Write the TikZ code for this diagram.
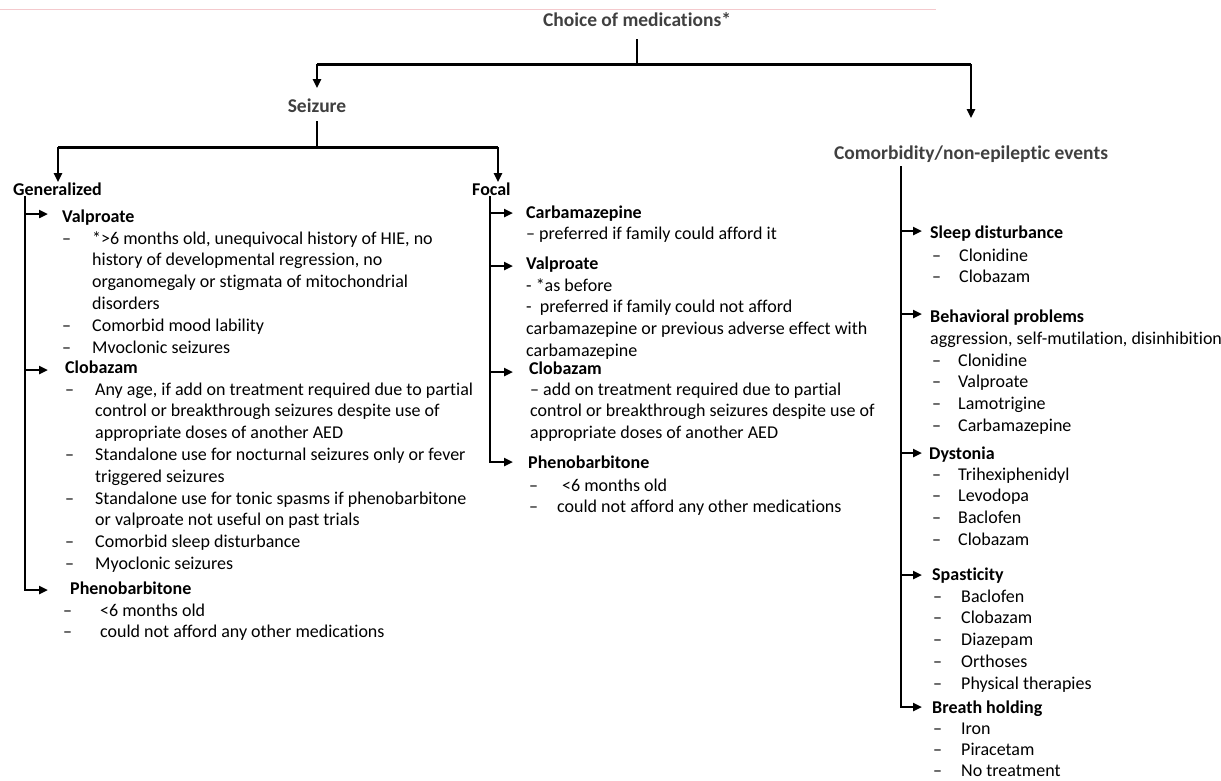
\documentclass[tikz,border=0pt]{standalone}
\usepackage{fontspec}
\setmainfont{Carlito}[RawFeature={-liga;-clig;-calt;-dlig}]
\usetikzlibrary{arrows.meta}
\definecolor{hdr}{HTML}{404040}
\definecolor{pinkline}{HTML}{F4C9CD}
% item: name, dash x, text x, baseline of first line, number of lines, text
\newcommand\medItem[6]{\node[body] (#1d) at (#2,#4) {–}; \node[body] (#1) at (#3,{#4+(#5-1)*21.8}) {#6};}
\begin{document}
\begin{tikzpicture}[x=1pt,y=-1pt,
  body/.style={anchor=base west, inner sep=0pt, align=left, font=\fontsize{18}{21.8}\selectfont},
  hd/.style={body, font=\fontsize{18}{21.8}\selectfont\bfseries},
  tp/.style={anchor=base, inner sep=0pt, text=hdr, font=\fontsize{19.5}{22}\selectfont\bfseries},
  ln/.style={line width=1.8pt},
  bar/.style={line width=3pt},
  arr/.style={line width=2.3pt, -{Triangle[length=9pt,width=8pt]}},
]
\useasboundingbox (0,0) rectangle (1221,780);
\draw[pinkline, line width=1pt] (0,9) -- (936,9);

% top level
\node[tp] (choice) at (637,26) {Choice of medications*};
\node[tp] (seizure) at (317,112) {Seizure};
\node[tp] (comorb) at (971,159) {Comorbidity/non-epileptic events};
\coordinate (cj) at (637,64);
\coordinate (sL) at (317,64);
\coordinate (cR) at (971,64);
\draw[ln] ([yshift=-13pt]choice.south) -- (cj);
\draw[bar] (sL) -- (cR);
\draw[arr] (sL) -- ([yshift=10pt]seizure.north);
\draw[arr] (cR) -- ([yshift=27pt]comorb.north);

% seizure split
\node[hd] (gen) at (13,195) {Generalized};
\node[hd] (foc) at (472,195) {Focal};
\coordinate (sj) at (317,147);
\coordinate (gj) at (58,147);
\coordinate (fj) at (498,147);
\draw[ln] ([yshift=-9pt]seizure.south) -- (sj);
\draw[bar] (gj) -- (fj);
\draw[arr] (gj) -- (gj |- gen.north);
\draw[arr] (fj) -- (fj |- foc.north);

% Generalized
\coordinate (gt0) at (25,196);
\coordinate (gt1) at (25,590);
\node[hd] (gval) at (62,222) {Valproate};
\coordinate (gvalA) at (48,214);
\medItem{gv1}{62}{92}{244}{4}{*>6 months old, unequivocal history of HIE, no\\history of developmental regression, no\\organomegaly or stigmata of mitochondrial\\disorders}
\medItem{gv2}{62}{92}{331}{1}{Comorbid mood lability}
\medItem{gv3}{62}{92}{353}{1}{Mvoclonic seizures}
\node[hd] (gclo) at (65,373) {Clobazam};
\coordinate (gcloA) at (48,370);
\medItem{gc1}{65}{95}{395}{3}{Any age, if add on treatment required due to partial\\control or breakthrough seizures despite use of\\appropriate doses of another AED}
\medItem{gc2}{65}{95}{460.4}{2}{Standalone use for nocturnal seizures only or fever\\triggered seizures}
\medItem{gc3}{65}{95}{504}{2}{Standalone use for tonic spasms if phenobarbitone\\or valproate not useful on past trials}
\medItem{gc4}{65}{95}{547.6}{1}{Comorbid sleep disturbance}
\medItem{gc5}{65}{95}{569.4}{1}{Myoclonic seizures}
\node[hd] (gphe) at (70,594) {Phenobarbitone};
\coordinate (gpheA) at (48,590);
\medItem{gp1}{63}{100}{616}{1}{<6 months old}
\medItem{gp2}{63}{100}{637}{1}{could not afford any other medications}
\draw[arr] (gt0) -- (gt1) -- (gpheA);
\draw[arr] (gt0 |- gvalA) -- (gvalA);
\draw[arr] (gt0 |- gcloA) -- (gcloA);

% Focal
\coordinate (ft0) at (490,196);
\coordinate (ft1) at (490,462);
\node[hd] (fcar) at (526,218) {Carbamazepine};
\coordinate (fcarA) at (513,213);
\node[body] (fc1) at (526,239) {– preferred if family could afford it};
\node[hd] (fval) at (526,269) {Valproate};
\coordinate (fvalA) at (513,266);
\node[body] (fv1) at (526,356.4) {- *as before\\-~ preferred if family could not afford\\carbamazepine or previous adverse effect with\\carbamazepine};
\node[hd] (fclo) at (529,374) {Clobazam};
\coordinate (fcloA) at (513,372);
\node[body] (fc2) at (530,438.6) {– add on treatment required due to partial\\control or breakthrough seizures despite use of\\appropriate doses of another AED};
\node[hd] (fphe) at (528,468) {Phenobarbitone};
\coordinate (fpheA) at (513,462);
\node[body] (fp1d) at (529,491) {–};
\node[body] (fp1) at (562,491) {<6 months old};
\node[body] (fp2d) at (529,512) {–};
\node[body] (fp2) at (557,512) {could not afford any other medications};
\draw[arr] (ft0) -- (ft1) -- (fpheA);
\draw[arr] (ft0 |- fcarA) -- (fcarA);
\draw[arr] (ft0 |- fvalA) -- (fvalA);
\draw[arr] (ft0 |- fcloA) -- (fcloA);

% Comorbidity
\coordinate (ct0) at (901,166);
\coordinate (ct1) at (901,707);
\node[hd] (csl) at (930,238) {Sleep disturbance};
\coordinate (cslA) at (922,231);
\medItem{cs1}{932}{959}{261}{1}{Clonidine}
\medItem{cs2}{932}{959}{282}{1}{Clobazam}
\node[hd] (cbe) at (930,322) {Behavioral problems};
\coordinate (cbeA) at (922,314);
\node[body] (cbe0) at (930,344) {aggression, self-mutilation, disinhibition};
\medItem{cb1}{932}{958}{366}{1}{Clonidine}
\medItem{cb2}{932}{958}{387.8}{1}{Valproate}
\medItem{cb3}{932}{958}{409.6}{1}{Lamotrigine}
\medItem{cb4}{932}{958}{431.4}{1}{Carbamazepine}
\node[hd] (cdy) at (929,459) {Dystonia};
\coordinate (cdyA) at (922,453);
\medItem{cd1}{932}{958}{480}{1}{Trihexiphenidyl}
\medItem{cd2}{932}{958}{501.8}{1}{Levodopa}
\medItem{cd3}{932}{958}{523.6}{1}{Baclofen}
\medItem{cd4}{932}{958}{545.4}{1}{Clobazam}
\node[hd] (csp) at (932,580) {Spasticity};
\coordinate (cspA) at (922,575);
\medItem{cp1}{933}{961}{602}{1}{Baclofen}
\medItem{cp2}{933}{961}{623.8}{1}{Clobazam}
\medItem{cp3}{933}{961}{645.6}{1}{Diazepam}
\medItem{cp4}{933}{961}{667.4}{1}{Orthoses}
\medItem{cp5}{933}{961}{689.2}{1}{Physical therapies}
\node[hd] (cbr) at (932,713) {Breath holding};
\coordinate (cbrA) at (922,707);
\medItem{cr1}{933}{961}{734}{1}{Iron}
\medItem{cr2}{933}{961}{755.5}{1}{Piracetam}
\medItem{cr3}{933}{961}{776}{1}{No treatment}
\draw[arr] (ct0) -- (ct1) -- (cbrA);
\draw[arr] (ct0 |- cslA) -- (cslA);
\draw[arr] (ct0 |- cbeA) -- (cbeA);
\draw[arr] (ct0 |- cdyA) -- (cdyA);
\draw[arr] (ct0 |- cspA) -- (cspA);
\end{tikzpicture}
\end{document}
